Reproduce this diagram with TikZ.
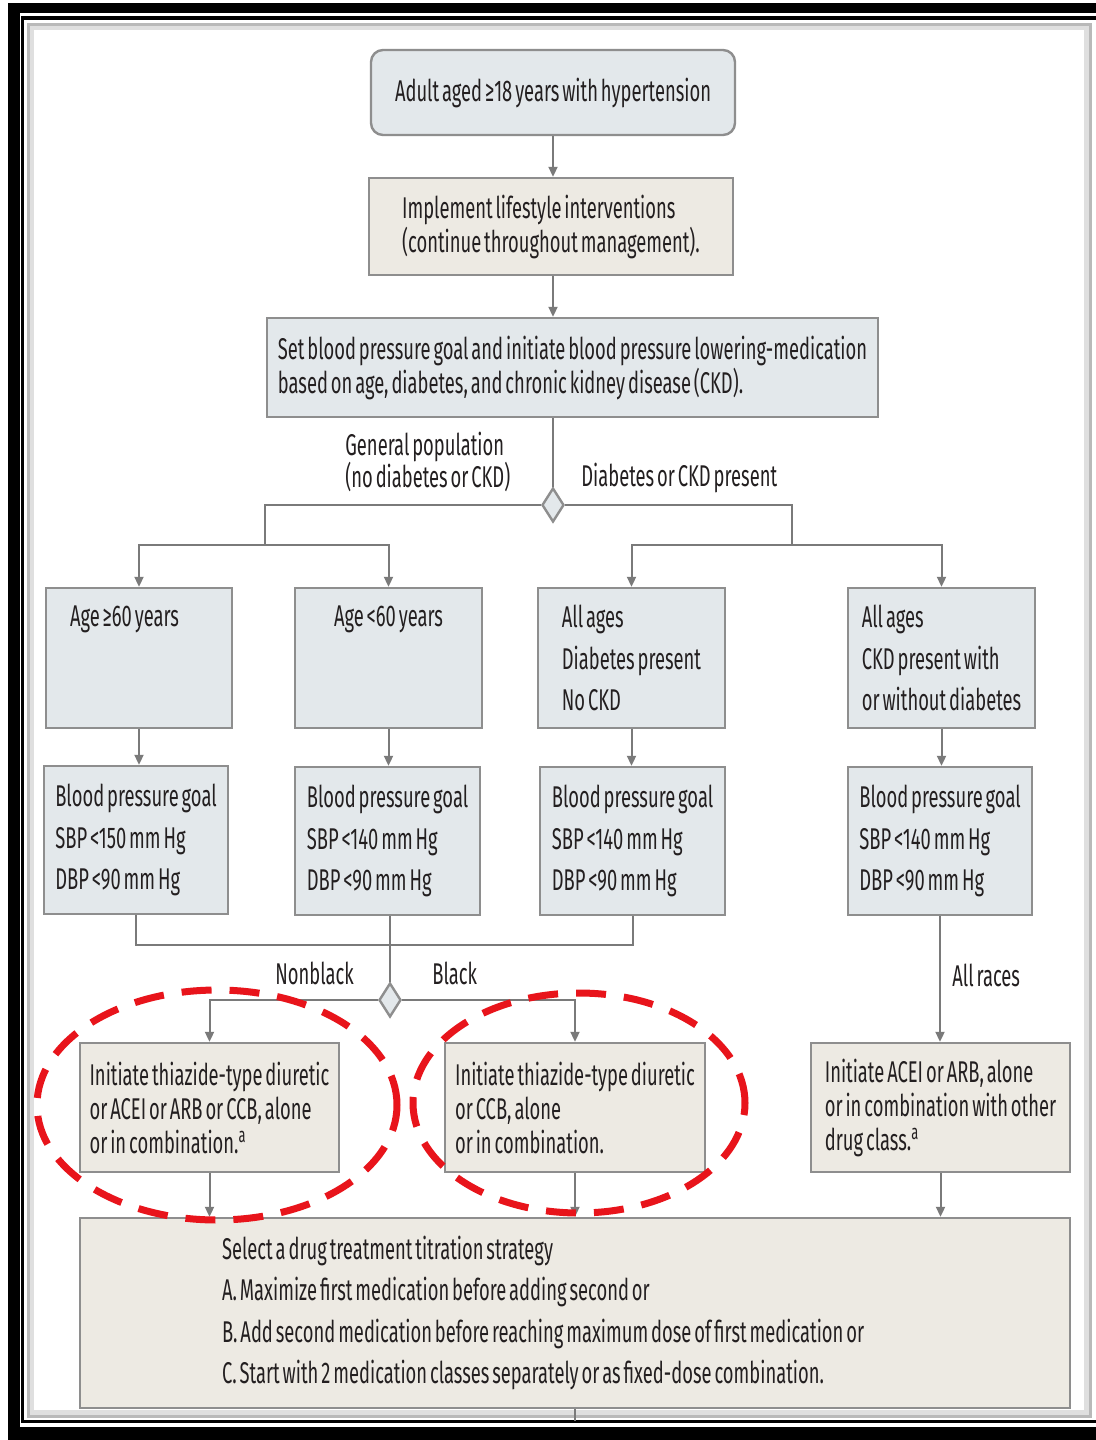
\documentclass[tikz,border=0pt]{standalone}
\usepackage{fontspec}
\setmainfont[FakeStretch=0.612, WordSpace=0.6]{Fira Sans}
\usepackage{xcolor}
\usepackage{tikz}
\usetikzlibrary{positioning, arrows.meta, calc, backgrounds, shapes.geometric}
\definecolor{niebla}{HTML}{E3E8EB}
\definecolor{arena}{HTML}{EDEAE3}
\definecolor{plomo}{HTML}{8E8E8E}
\definecolor{trazo}{HTML}{7A7A7A}
\definecolor{tinta}{HTML}{231F20}
\definecolor{alerta}{HTML}{E8141B}
\hyphenpenalty=10000
\exhyphenpenalty=10000

\begin{document}
\begin{tikzpicture}[x=0.5pt, y=-0.5pt,
    caja/.style={draw=plomo, line width=1.2pt, inner xsep=0pt, align=flush left, text=tinta, font=\fontsize{15pt}{20.75pt}\selectfont},
    cajaazul/.style={caja, fill=niebla},
    cajaarena/.style={caja, fill=arena},
    apretado/.style={font=\fontsize{15pt}{17pt}\selectfont},
    rombo/.style={diamond, draw=plomo, fill=niebla, line width=1.2pt, inner sep=0pt, minimum width=11pt, minimum height=17pt},
    etiqueta/.style={anchor=west, text=tinta, align=flush left, inner sep=0pt, font=\fontsize{15pt}{16pt}\selectfont},
    flecha/.style={draw=trazo, line width=1pt, -{Triangle[width=4.5pt,length=5pt]}},
    linea/.style={draw=trazo, line width=1pt}]
    \useasboundingbox (0,0) rectangle (1096,1440);
    \fill[white] (0,0) rectangle (1096,1440);
    \fill[black] (8,3) rectangle (1096,1440);
    \fill[white] (20,13) rectangle (1096,1427);
    \draw[black, line width=1.75pt] (22.5,18) rectangle (1120,1421.5);
    \fill[white] (25,21) rectangle (1096,1419);
    \draw[gray!25, line width=3pt] (31,27) rectangle (1087,1413);
    \draw[gray!55, line width=1.5pt] (28,24) rectangle (1090,1416);

    \node[cajaazul, rounded corners=6pt, align=center, minimum width=182pt, minimum height=42.5pt] (inicio) at (553,92.5) {Adult aged ≥18 years with hypertension};
    \node[cajaarena, apretado, minimum width=182pt, minimum height=48.5pt] (estilo) at (551,226.5) {Implement lifestyle interventions\\(continue throughout management).};
    \node[cajaazul, apretado, minimum width=305.5pt, minimum height=49.5pt] (meta) at (572.5,367.5) {Set blood pressure goal and initiate blood pressure lowering-medication\\based on age, diabetes, and chronic kidney disease (CKD).};
    \node[rombo] (rombo1) at (553,505) {};

    \node[cajaazul, minimum width=93pt, minimum height=70pt, text width=69pt] (edad1) at (139,658) {Age ≥60 years\\~\\~};
    \node[cajaazul, minimum width=93.5pt, minimum height=70pt] (edad2) at (388.5,658) {Age <60 years\\~\\~};
    \node[cajaazul, minimum width=93.5pt, minimum height=70pt] (diab) at (631.5,658) {All ages\\Diabetes present\\No CKD};
    \node[cajaazul, minimum width=93.5pt, minimum height=70pt] (renal) at (941.5,658) {All ages\\CKD present with\\or without diabetes};

    \node[cajaazul, minimum width=92pt, minimum height=74pt] (g1) at (136,840) {Blood pressure goal\\SBP <150 mm Hg\\DBP <90 mm Hg};
    \node[cajaazul, minimum width=92.5pt, minimum height=74pt] (g2) at (387.5,841) {Blood pressure goal\\SBP <140 mm Hg\\DBP <90 mm Hg};
    \node[cajaazul, minimum width=92.5pt, minimum height=74pt] (g3) at (632.5,841) {Blood pressure goal\\SBP <140 mm Hg\\DBP <90 mm Hg};
    \node[cajaazul, minimum width=92pt, minimum height=74pt] (g4) at (940,841) {Blood pressure goal\\SBP <140 mm Hg\\DBP <90 mm Hg};
    \node[rombo] (rombo2) at (390,1000) {};

    \node[cajaarena, apretado, minimum width=129.5pt, minimum height=64.5pt] (ini1) at (209.5,1107.5) {Initiate thiazide-type diuretic\\or ACEI or ARB or CCB, alone\\or in combination.\textsuperscript{a}};
    \node[cajaarena, apretado, minimum width=130pt, minimum height=64.5pt] (ini2) at (575,1107.5) {Initiate thiazide-type diuretic\\or CCB, alone\\or in combination.};
    \node[cajaarena, apretado, minimum width=129.5pt, minimum height=64.5pt] (ini3) at (940.5,1107.5) {Initiate ACEI or ARB, alone\\or in combination with other\\drug class.\textsuperscript{a}};
    \node[cajaarena, minimum width=495pt, minimum height=95pt, text width=353pt] (final) at (575,1313) {Select a drug treatment titration strategy\\A. Maximize first medication before adding second or\\B. Add second medication before reaching maximum dose of first medication or\\C. Start with 2 medication classes separately or as fixed-dose combination.};

    \node[etiqueta] (general) at (345,462) {General population\\(no diabetes or CKD)};
    \node[etiqueta] (presente) at (581,478) {Diabetes or CKD present};
    \node[etiqueta] (noneg) at (275,973) {Nonblack};
    \node[etiqueta] (neg) at (432,973) {Black};
    \node[etiqueta] (todas) at (952,975) {All races};

    \coordinate (ramaizq) at (265,545);
    \coordinate (ramader) at (792,545);
    \coordinate (union) at (390,945);
    \coordinate (salida) at (575,1421);

    \draw[flecha] (inicio.south) -- (inicio.south |- estilo.north);
    \draw[flecha] (estilo.south -| inicio.south) -- (inicio.south |- meta.north);
    \draw[linea] (meta.south -| rombo1.north) -- (rombo1.north);
    \draw[linea] (rombo1.west) -| (ramaizq);
    \draw[linea] (rombo1.east) -| (ramader);
    \draw[flecha] (ramaizq) -| (edad1.north);
    \draw[flecha] (ramaizq) -| (edad2.north);
    \draw[flecha] (ramader) -| (diab.north);
    \draw[flecha] (ramader) -| (renal.north);
    \foreach \a/\b in {edad1/g1, edad2/g2, diab/g3, renal/g4} {\draw[flecha] (\a.south) -- (\a.south |- \b.north);}
    \draw[linea] (g1.south) -- (g1.south |- union) -- (g3.south |- union) -- (g3.south);
    \draw[linea] (g2.south -| rombo2.north) -- (rombo2.north);
    \draw[flecha] (rombo2.west) -| (ini1.north);
    \draw[flecha] (rombo2.east) -| (ini2.north);
    \draw[flecha] (g4.south) -- (g4.south |- ini3.north);
    \foreach \c in {ini1, ini2, ini3} {\draw[flecha] (\c.south) -- (\c.south |- final.north);}
    \draw[linea] (final.south) -- (salida);

    \draw[alerta, line width=3.5pt, dash pattern=on 15pt off 9pt] (217,1105) ellipse [x radius=90pt, y radius=57.5pt];
    \draw[alerta, line width=3.5pt, dash pattern=on 15pt off 9pt] (579,1103) ellipse [x radius=83pt, y radius=55pt];
  \end{tikzpicture}
\end{document}
